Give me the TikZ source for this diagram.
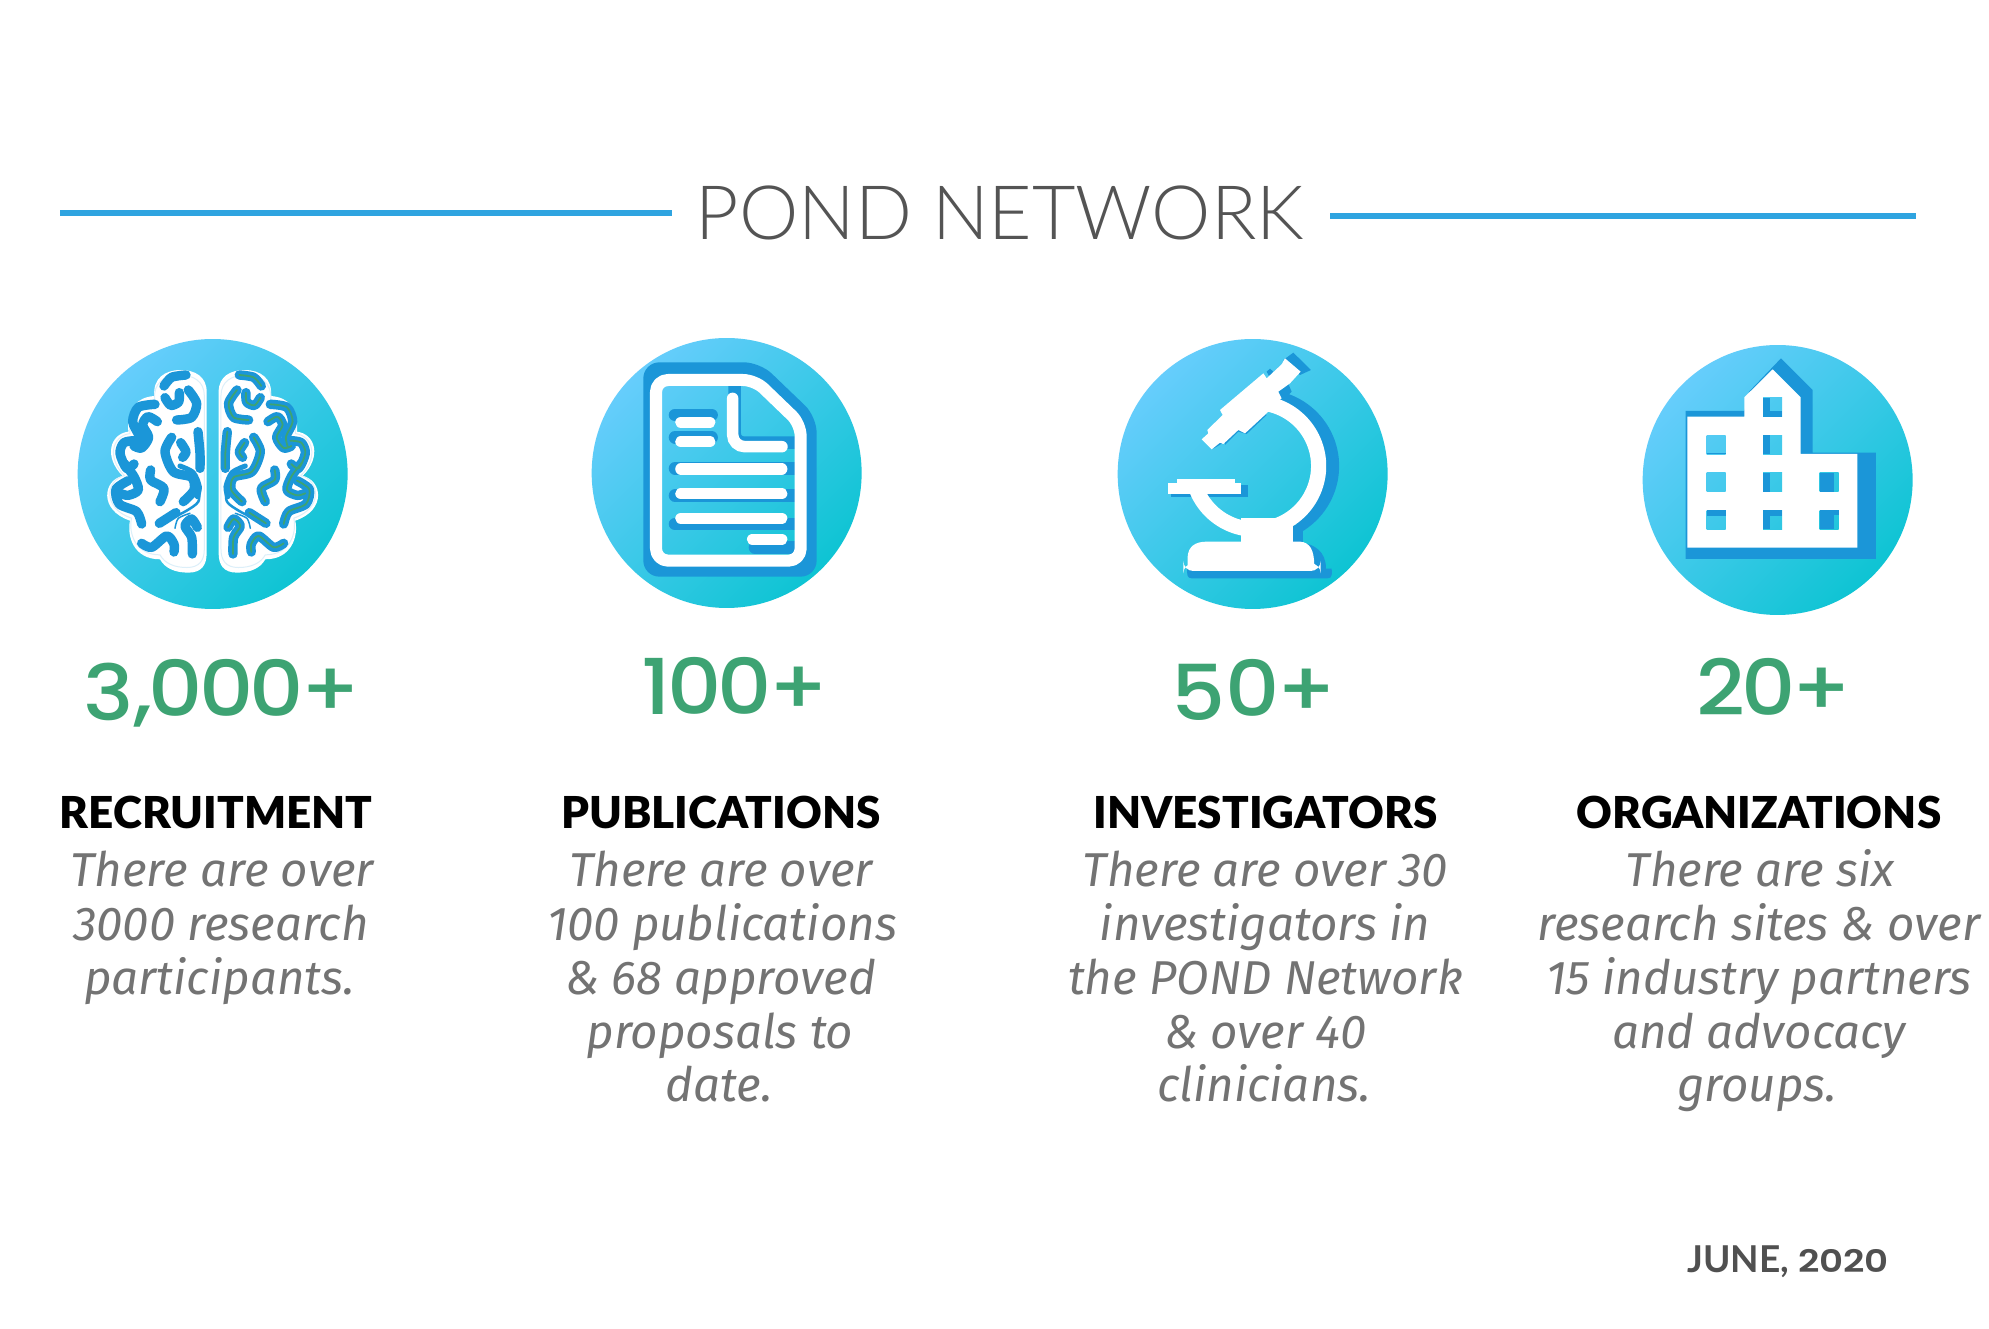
\documentclass[tikz,border=0pt]{standalone}
\usepackage{fontspec}
\setmainfont{Lato}
\newfontfamily\titlefont{Lato Light}
\newfontfamily\numfont[FakeStretch=1.1,LetterSpace=-5]{Poppins Medium}
\newfontfamily\headfont{Lato Black}
\newfontfamily\bodyfont{Fira Sans Italic}
\newfontfamily\datefont{Lato Bold}
\newfontfamily\datenumfont[FakeStretch=1.2]{Poppins SemiBold}
\definecolor{lineblue}{HTML}{2FA4E0}
\definecolor{darkblue}{HTML}{1B96D8}
\definecolor{discA}{HTML}{66CDFC}
\definecolor{discB}{HTML}{0EC4D3}
\definecolor{numgreen}{HTML}{3DA373}
\definecolor{titlegrey}{HTML}{545454}
\definecolor{bodygrey}{HTML}{737373}
\definecolor{dategrey}{HTML}{505050}
\definecolor{brainfaint}{HTML}{DCEFF9}
\tikzset{
  rulestyle/.style={draw=lineblue,line width=6pt},
  discshade/.style={left color=discA,right color=discB,shading angle=45},
  title/.style={font=\titlefont\fontsize{75}{75}\selectfont,text=titlegrey,inner sep=0pt},
  numstyle/.style={anchor=base,font=\numfont\fontsize{77}{77}\selectfont,text=numgreen,inner sep=0pt},
  headstyle/.style={anchor=base,font=\headfont\fontsize{44}{44}\selectfont,text=black,inner sep=0pt},
  bodystyle/.style={anchor=base,font=\bodyfont\fontsize{47.5}{47.5}\selectfont,text=bodygrey,inner sep=0pt},
  datestyle/.style={anchor=base,font=\datefont\fontsize{37}{37}\selectfont,text=dategrey,inner sep=0pt},
  zoomed/.style={shift={#1},x=0.3333pt,y=-0.3333pt},
  brainstroke/.style={draw=darkblue,line width=9.4pt,line cap=round,line join=round},
  brainthin/.style={draw=numgreen,line width=1.8pt,line cap=round,line join=round},
  docring/.style={draw=white,line width=12pt,line join=round},
  docline/.style={draw=white,line width=11.5pt,line cap=round},
  docshadow/.style={draw=darkblue,line width=12.5pt,line cap=round},
}
\newcommand{\discfill}[2]{\shade[discshade] (#1,#2) circle[radius=405];}
\newcommand{\lowdigit}[1]{\raisebox{-4pt}{#1}}
% left half of the brain, in the coordinates of the zoomed crop
\newcommand{\brainhalf}{%
  (440,215) .. controls (440,170) and (405,150) .. (362,150)
  .. controls (315,150) and (278,175) .. (283,228)
  .. controls (230,232) and (200,265) .. (205,335)
  .. controls (150,342) and (130,410) .. (188,468)
  .. controls (130,480) and (115,570) .. (210,602)
  .. controls (200,650) and (222,718) .. (300,718)
  .. controls (315,745) and (345,758) .. (385,758)
  .. controls (425,758) and (440,735) .. (440,700) -- cycle}
\newcommand{\brainlines}[1]{%
  \draw[#1] plot[smooth] coordinates {(312,198) (335,172) (378,165)};
  \draw[#1] plot[smooth] coordinates {(315,233) (332,256) (356,246) (358,218)};
  \draw[#1] plot[smooth] coordinates {(385,210) (410,250) (395,292) (350,300)};
  \draw[#1] plot[smooth] coordinates {(285,253) (235,262) (218,305) (238,350) (232,382)};
  \draw[#1] plot[smooth] coordinates {(292,305) (264,290) (248,315) (266,352) (245,384) (222,378)};
  \draw[#1] plot[smooth] coordinates {(225,362) (192,368) (180,400) (200,445) (222,432)};
  \draw[#1] plot[smooth] coordinates {(192,430) (222,470) (235,510) (205,526) (180,520)};
  \draw[#1] plot[smooth] coordinates {(205,482) (168,508) (178,552) (230,575) (245,612)};
  \draw[#1] plot[smooth] coordinates {(272,450) (272,480) (312,505) (300,545)};
  \draw[#1] plot[smooth] coordinates {(414,335) (420,400) (420,445)};
  \draw[#1] plot[smooth] coordinates {(335,352) (315,395) (340,455) (395,472) (402,510) (370,545)};
  \draw[#1] plot[smooth] coordinates {(362,368) (378,395) (368,412)};
  \draw[#1] plot[smooth] coordinates {(348,578) (298,610)};
  \draw[#1] plot[smooth] coordinates {(412,622) (395,597) (375,618) (395,652) (397,702)};
  \draw[#1] plot[smooth] coordinates {(245,670) (275,682) (320,648) (342,672) (342,696)};
}
\newcommand{\brainweb}{%
  \draw[darkblue,line width=5pt,line cap=round] plot[smooth] coordinates {(360,438) (400,458) (418,500) (412,530)};
  \draw[darkblue,line width=2.5pt,line cap=round] plot[smooth] coordinates {(418,500) (415,545) (380,572) (345,590)};
  \draw[darkblue,line width=1.5pt,line cap=round] plot[smooth] coordinates {(390,580) (355,595) (345,625)};
}
\newcommand{\brainback}{%
  \fill[white] \brainhalf;
  \begin{scope}[shift={(300,450)},scale=.95,shift={(-300,-450)}]
    \draw[brainfaint,line width=1pt] \brainhalf;
  \end{scope}
}
\begin{document}
\begin{tikzpicture}[x=1pt,y=-1pt]
\useasboundingbox[fill=white] (0,0) rectangle (1989,1328);

% heading
\draw[rulestyle] (60,213) -- (672,213);
\draw[rulestyle] (1330,216) -- (1916,216);
\node[title] (t) at (1000,213) {POND NETWORK};

% BRAIN
\begin{scope}[zoomed={(60,320)}]
  \discfill{458}{462}
  \brainback
  \begin{scope}[shift={(916,0)},xscale=-1]
    \brainback
  \end{scope}
  \brainlines{brainstroke}
  \brainweb
  \begin{scope}[shift={(916,0)},xscale=-1]
    \brainlines{brainstroke}
    \brainweb
    \brainlines{brainthin}
  \end{scope}
\end{scope}

% DOCUMENT
\begin{scope}[zoomed={(580,320)}]
  \discfill{440}{459}
  \fill[darkblue,rounded corners=16pt] (190,127) -- (540,127) -- (710,290) -- (710,770) -- (190,770) -- cycle;
  \begin{scope}
    \clip[rounded corners=8pt] (228,180) -- (525,180) -- (662,312) -- (662,722) -- (228,722) -- cycle;
    \discfill{440}{459}
    \draw[docshadow] (285,285) -- (395,285);
    \draw[docshadow] (285,352) -- (395,352);
    \draw[docshadow] (285,445) -- (700,445);
    \draw[docshadow] (285,527) -- (700,527);
    \draw[docshadow] (285,612) -- (700,612);
    \draw[docshadow] (525,683) -- (700,683);
    \draw[docshadow,rounded corners=9pt] (464,190) -- (464,368) -- (700,368);
  \end{scope}
  \draw[docring,rounded corners=12pt] (228,180) -- (525,180) -- (662,312) -- (662,722) -- (228,722) -- cycle;
  \draw[docline] (303,307) -- (389,307);
  \draw[docline] (303,365) -- (389,365);
  \draw[docline] (303,447) -- (605,447);
  \draw[docline] (303,521) -- (605,521);
  \draw[docline] (303,595) -- (605,595);
  \draw[docline] (518,658) -- (605,658);
  \draw[docline,rounded corners=12pt] (458,235) -- (458,380) -- (606,380);
\end{scope}

% MICROSCOPE
\begin{scope}[zoomed={(1110,330)}]
  \discfill{428}{432}
  % shadows
  \draw[darkblue,line width=15pt] plot[domain=-75:60,samples=40] ({458+207*cos(\x)},{408+207*sin(\x)});
  \fill[darkblue] (545,585) rectangle (580,640);
  \fill[darkblue] (385,465) rectangle (413,500);
  \fill[darkblue] (183,490) rectangle (413,500);
  \fill[darkblue] (520,90) -- (550,68) -- (603,120) -- (570,135) -- cycle;
  \fill[darkblue] (470,125) -- (480,116) -- (490,125) -- (478,140) -- cycle;
  \fill[darkblue] (310,356) -- (345,335) -- (345,345) -- (385,305) -- (410,312) -- (470,255) -- (450,240) -- (320,330) -- cycle;
  \fill[darkblue] (530,150) -- (545,185) -- (520,212) -- (500,190) -- cycle;
  \fill[darkblue] (560,636) .. controls (615,640) and (648,665) .. (648,716) -- (665,716)
     .. controls (668,745) and (660,745) .. (650,745) -- (245,745) .. controls (232,745) and (230,735) .. (232,715) -- cycle;
  % white parts
  \begin{scope}
    \clip (150,212) rectangle (700,640);
    \draw[white,line width=15.2pt] plot[domain=-90:160,samples=80] ({436+190*cos(\x)},{408+190*sin(\x)});
  \end{scope}
  \fill[white] (275,328) -- (295,310) -- (292,300) -- (338,255) -- (330,240) -- (460,130) -- (470,145)
     -- (515,103) -- (525,85) -- (572,125) -- (540,160) -- (505,185) -- (515,205) -- (470,250)
     -- (405,310) -- (385,300) -- (340,342) -- (330,338) -- (305,358) -- cycle;
  \fill[white] (175,460) rectangle (392,493);
  \fill[white] (200,447) rectangle (375,460);
  \fill[white] (392,565) rectangle (550,640);
  \fill[white] (233,705) -- (233,680) .. controls (235,650) and (255,635) .. (290,635) -- (570,635)
     .. controls (600,637) and (612,660) .. (613,705) -- cycle;
  \fill[white,rounded corners=10pt] (220,700) rectangle (632,723);
\end{scope}

% BUILDING
\begin{scope}[zoomed={(1630,335)}]
  \discfill{443}{435}
  \fill[darkblue] (167,228) -- (343,228) -- (357,170) -- (453,70) -- (548,165) -- (548,353) -- (738,353) -- (738,672) -- (167,672) -- cycle;
  \fill[white] (172,245) -- (343,245) -- (343,187) -- (428,103) -- (512,187) -- (512,357) -- (682,357) -- (682,638) -- (172,638) -- cycle;
  \foreach \wx/\wy in {399/189,230/301,399/301,230/414,399/414,569/414,230/526,399/526,569/526}{
    \begin{scope}
      \clip (\wx,\wy) rectangle ++(57,57);
      \discfill{443}{435}
    \end{scope}
  }
  \fill[darkblue] (399,189) rectangle ++(22,57);
  \fill[darkblue] (399,229) rectangle ++(57,16);
  \fill[darkblue] (399,301) rectangle ++(22,57);
  \fill[darkblue] (230,355) rectangle ++(57,3);
  \fill[darkblue] (399,414) rectangle ++(22,57);
  \fill[darkblue] (569,414) rectangle ++(43,57);
  \fill[darkblue] (230,526) rectangle ++(57,17);
  \fill[darkblue] (399,526) rectangle ++(22,57);
  \fill[darkblue] (399,526) rectangle ++(57,17);
  \fill[darkblue] (569,526) rectangle ++(43,57);
  \fill[darkblue] (569,526) rectangle ++(57,13);
\end{scope}

% numbers
\node[numstyle] (n1) at (222,716) {\lowdigit{3},000+};
\node[numstyle] (n2) at (735,714) {100+};
\node[numstyle] (n3) at (1254,716) {\lowdigit{5}0+};
\node[numstyle] (n4) at (1774,715) {20+};

% headings
\node[headstyle] (h1) at (216,828.5) {RECRUITMENT};
\node[headstyle] (h2) at (721,828.5) {PUBLICATIONS};
\node[headstyle] (h3) at (1265.5,828.5) {INVESTIGATORS};
\node[headstyle] (h4) at (1759,828.5) {ORGANIZATIONS};

% body lines
\node[bodystyle] (a1) at (222,886) {There are over};
\node[bodystyle] (a2) at (221,940) {3000 research};
\node[bodystyle] (a3) at (219.5,994) {participants.};

\node[bodystyle] (b1) at (721,886) {There are over};
\node[bodystyle] (b2) at (722,940) {100 publications};
\node[bodystyle] (b3) at (720.5,994) {\& 68 approved};
\node[bodystyle] (b4) at (720,1048) {proposals to};
\node[bodystyle] (b5) at (719,1101) {date.};

\node[bodystyle] (c1) at (1265.5,886) {There are over 30};
\node[bodystyle] (c2) at (1265,940) {investigators in};
\node[bodystyle] (c3) at (1265.5,994) {the POND Network};
\node[bodystyle] (c4) at (1265.5,1048) {\& over 40};
\node[bodystyle] (c5) at (1264,1101) {clinicians.};

\node[bodystyle] (d1) at (1760,886) {There are six};
\node[bodystyle] (d2) at (1759,940) {research sites \& over};
\node[bodystyle] (d3) at (1759,994) {15 industry partners};
\node[bodystyle] (d4) at (1759,1048) {and advocacy};
\node[bodystyle] (d5) at (1757,1101) {groups.};

\node[datestyle] (date) at (1788,1272) {JUNE, {\datenumfont\fontsize{31}{31}\selectfont 2020}};
\end{tikzpicture}
\end{document}
